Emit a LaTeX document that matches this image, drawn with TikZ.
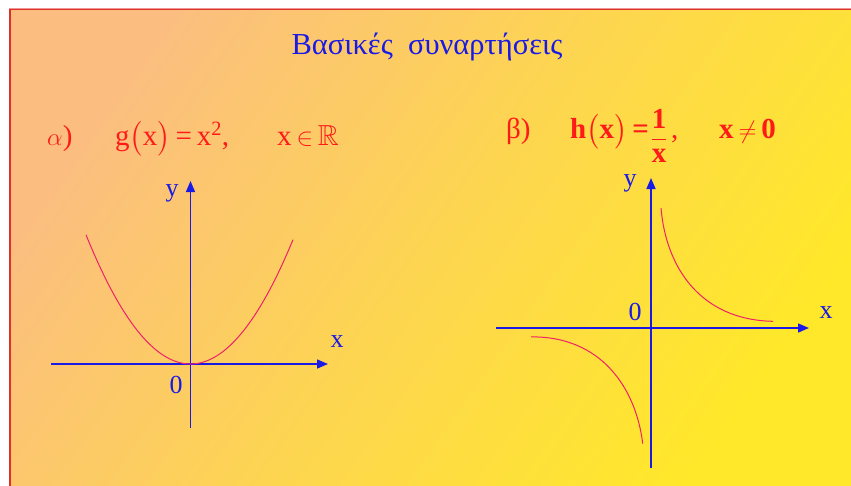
\documentclass[tikz,border=0pt]{standalone}
\usepackage{amsmath,amssymb}
\usepackage{fontspec}
\setmainfont{Liberation Serif}
\usetikzlibrary{arrows.meta}
\definecolor{peach}{HTML}{FBBE80}
\definecolor{gold}{HTML}{FFE82A}
\definecolor{axblue}{HTML}{1A1AE6}
\definecolor{crv}{HTML}{F0206A}
\definecolor{fred}{HTML}{FF1A1A}
\definecolor{bord}{HTML}{E0302A}
\begin{document}
\begin{tikzpicture}[x=1pt,y=-1pt,
  axis/.style={axblue, line width=1.5pt, -{Triangle[length=11pt,width=9pt]}},
  curve/.style={crv, line width=1pt},
  lab/.style={text=axblue, font=\fontsize{26}{26}\selectfont, inner sep=0pt, anchor=base},
  fml/.style={text=fred, font=\fontsize{29}{29}\selectfont, inner sep=0pt, anchor=base west},
  fmlb/.style={fml, font=\fontsize{29}{29}\selectfont\bfseries},
  ttl/.style={text=axblue, font=\fontsize{30.5}{30.5}\selectfont, inner sep=0pt, anchor=base}]
\useasboundingbox (0,0) rectangle (851,485);
\fill[white] (0,0) rectangle (851,485);
\shade[top color=peach, bottom color=gold, middle color=peach!45!gold, shading angle=55] (10,9) rectangle (851,485);
\draw[bord!50!white, line width=1pt] (9,490) -- (9,8) -- (855,8);
\draw[bord, line width=1.6pt] (10,490) -- (10,9.5) -- (855,9.5);
% title
\node[ttl] (title) at (427,54) {Βασικές\ \ συναρτήσεις};
% formulas
\node[fml] (la) at (47,145) {$\alpha$)};
\node[fml] (fa) at (115,145) {g$\bigl($x$\bigr)$\,=\,x$^{\textrm{2}}$,};
\node[fml] (da) at (277,145) {x\,$\in$\,$\mathbb{R}$};
\node[fml] (lb) at (506,138) {β)};
\node[fmlb] (fb) at (570,138) {h$\bigl($x$\bigr)$\,=};
\node[text=fred, font=\fontsize{29}{29}\selectfont\bfseries, inner sep=0pt] (frac) at (659,136) {$\dfrac{\textbf{1}}{\textbf{x}}$};
\node[fml] (cm) at (671,138) {,};
\node[fmlb] (db) at (719,138) {x\,$\neq$\,0};
% graph alpha
\coordinate (aL) at (51,364);
\coordinate (aR) at (328,364);
\coordinate (aB) at (190.5,428);
\coordinate (aT) at (190.5,181);
\draw[axis] (aL) -- (aR);
\draw[axis] (aB) -- (aT);
\node[lab] (ay) at (172,196) {y};
\node[lab] (ax) at (337,347) {x};
\node[lab] (a0) at (176,393) {0};
\draw[curve] plot[domain=-104.5:102.5, samples=80] ({190.5+\x},{364-128*(\x/104)^2});
% graph beta
\coordinate (bL) at (496,328);
\coordinate (bR) at (809,328);
\coordinate (bB) at (651,468);
\coordinate (bT) at (651,178);
\draw[axis] (bL) -- (bR);
\draw[axis] (bB) -- (bT);
\node[lab] (by) at (630,186) {y};
\node[lab] (bx) at (826,318) {x};
\node[lab] (b0) at (635,320) {0};
\begin{scope}[shift={(651,328)}]
\coordinate (u1) at (10,-120);
\coordinate (u2) at (122,-6.7);
\coordinate (l1) at (-120,8.9);
\coordinate (l2) at (-8.3,115.6);
\draw[curve] (u1) .. controls (15,-60) and (50,-8) .. (u2);
\draw[curve] (l1) .. controls (-50,8) and (-15,60) .. (l2);
\end{scope}
\end{tikzpicture}
\end{document}
